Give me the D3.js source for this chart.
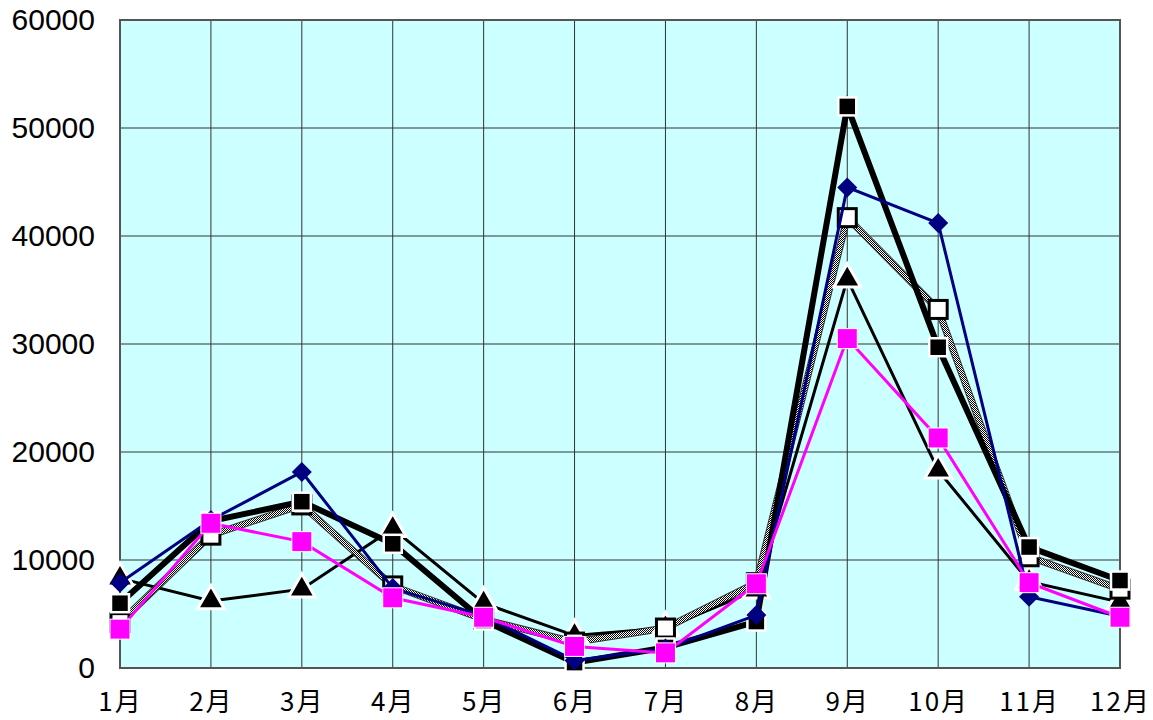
<!DOCTYPE html>
<html>
<head>
<meta charset="utf-8">
<script src="https://cdn.jsdelivr.net/npm/d3@7"></script>
<style>
  html, body { margin: 0; padding: 0; background: #fff; }
  svg { display: block; }
</style>
</head>
<body>
<svg id="chart" width="1153" height="720"></svg>
<script>
// Monthly values, five series
const months = ["1月","2月","3月","4月","5月","6月","7月","8月","9月","10月","11月","12月"];
const yTicks = [0, 10000, 20000, 30000, 40000, 50000, 60000];

const navyDiamond  = [7900, 13700, 18150, 7400, 4800, 700, 1800, 4900, 44500, 41200, 6600, 4800];
const blackSquare  = [6000, 13600, 15400, 11500, 4400, 500, 1900, 4300, 52000, 29700, 11200, 8100];
const whiteSquare  = [4200, 12300, 15100, 7600, 4500, 2400, 3700, 7900, 41700, 33200, 10300, 7300];
const blackTri     = [8300, 6200, 7300, 12900, 6000, 3000, 3700, 7200, 36000, 18300, 8000, 6100];
const magentaSq    = [3600, 13400, 11700, 6500, 4700, 2000, 1400, 7800, 30500, 21300, 7900, 4700];

const svg = d3.select("#chart");
const plotL = 120, plotR = 1120, plotT = 20, plotB = 668;

const x = d3.scalePoint().domain(months).range([plotL, plotR]).padding(0);
const y = d3.scaleLinear().domain([0, 60000]).range([plotB, plotT]);

// checkered stroke pattern for the grey series
const defs = svg.append("defs");
const pat = defs.append("pattern").attr("id", "checker")
  .attr("patternUnits", "userSpaceOnUse").attr("width", 2).attr("height", 2);
pat.append("rect").attr("width", 2).attr("height", 2).attr("fill", "#fff");
pat.append("rect").attr("width", 1).attr("height", 1).attr("fill", "#000");
pat.append("rect").attr("x", 1).attr("y", 1).attr("width", 1).attr("height", 1).attr("fill", "#000");

// plot background
svg.append("rect").attr("x", plotL).attr("y", plotT)
  .attr("width", plotR - plotL).attr("height", plotB - plotT)
  .attr("fill", "#ccffff");

// gridlines
svg.append("g").selectAll("line").data(yTicks.slice(1, -1)).join("line")
  .attr("x1", plotL).attr("x2", plotR)
  .attr("y1", d => y(d)).attr("y2", d => y(d))
  .attr("stroke", "#333").attr("stroke-width", 1);
svg.append("g").selectAll("line").data(months.slice(1, -1)).join("line")
  .attr("x1", d => x(d)).attr("x2", d => x(d))
  .attr("y1", plotT).attr("y2", plotB)
  .attr("stroke", "#333").attr("stroke-width", 1);

// frame
svg.append("rect").attr("x", plotL).attr("y", plotT)
  .attr("width", plotR - plotL).attr("height", plotB - plotT)
  .attr("fill", "none").attr("stroke", "#555").attr("stroke-width", 2);

// axis labels
const yAxis = d3.axisLeft(y).tickValues(yTicks).tickSize(0).tickPadding(25).tickFormat(d3.format("d"));
const gy = svg.append("g").attr("transform", `translate(${plotL},0)`).call(yAxis);
gy.select(".domain").remove();
gy.selectAll("text").attr("font-family", "'Liberation Sans', Arial, sans-serif")
  .attr("font-size", 30).attr("fill", "#000");

const xAxis = d3.axisBottom(x).tickSize(0).tickPadding(25);
const gx = svg.append("g").attr("transform", `translate(0,${plotB})`).call(xAxis);
gx.select(".domain").remove();
gx.selectAll("text").attr("font-family", "'Noto Sans CJK JP', sans-serif")
  .attr("font-size", 26).attr("fill", "#000").attr("letter-spacing", 2);

const line = d3.line().x((d, i) => x(months[i])).y(d => y(d));

// grey checkered series (dark edge underneath)
svg.append("path").datum(whiteSquare).attr("d", line)
  .attr("fill", "none").attr("stroke", "#333").attr("stroke-width", 7);
// triangle series line
svg.append("path").datum(blackTri).attr("d", line)
  .attr("fill", "none").attr("stroke", "#000").attr("stroke-width", 3);
svg.append("path").datum(whiteSquare).attr("d", line)
  .attr("fill", "none").attr("stroke", "url(#checker)").attr("stroke-width", 5);

// triangle markers
const tri = d3.symbol().type(d3.symbolTriangle).size(310);
svg.append("g").selectAll("path").data(blackTri).join("path")
  .attr("d", tri)
  .attr("transform", (d, i) => `translate(${x(months[i])},${y(d)})`)
  .attr("fill", "#000").attr("stroke", "#fff").attr("stroke-width", 3);

// white square markers
svg.append("g").selectAll("rect").data(whiteSquare).join("rect")
  .attr("x", (d, i) => x(months[i]) - 9).attr("y", d => y(d) - 9)
  .attr("width", 18).attr("height", 18)
  .attr("fill", "#fff").attr("stroke", "#000").attr("stroke-width", 3);

// thick black series
svg.append("path").datum(blackSquare).attr("d", line)
  .attr("fill", "none").attr("stroke", "#000").attr("stroke-width", 6);
svg.append("g").selectAll("rect").data(blackSquare).join("rect")
  .attr("x", (d, i) => x(months[i]) - 9).attr("y", d => y(d) - 9)
  .attr("width", 18).attr("height", 18)
  .attr("fill", "#000").attr("stroke", "#fff").attr("stroke-width", 2.5);

// navy diamond series
svg.append("path").datum(navyDiamond).attr("d", line)
  .attr("fill", "none").attr("stroke", "#000080").attr("stroke-width", 3);
const dia = d3.symbol().type(d3.symbolSquare).size(200);
svg.append("g").selectAll("path").data(navyDiamond).join("path")
  .attr("d", dia)
  .attr("transform", (d, i) => `translate(${x(months[i])},${y(d)}) rotate(45)`)
  .attr("fill", "#000080");

// magenta series
svg.append("path").datum(magentaSq).attr("d", line)
  .attr("fill", "none").attr("stroke", "#ff00ff").attr("stroke-width", 3);
svg.append("g").selectAll("rect").data(magentaSq).join("rect")
  .attr("x", (d, i) => x(months[i]) - 10).attr("y", d => y(d) - 10)
  .attr("width", 20).attr("height", 20)
  .attr("fill", "#ff00ff").attr("stroke", "#fff").attr("stroke-width", 1);
</script>
</body>
</html>
